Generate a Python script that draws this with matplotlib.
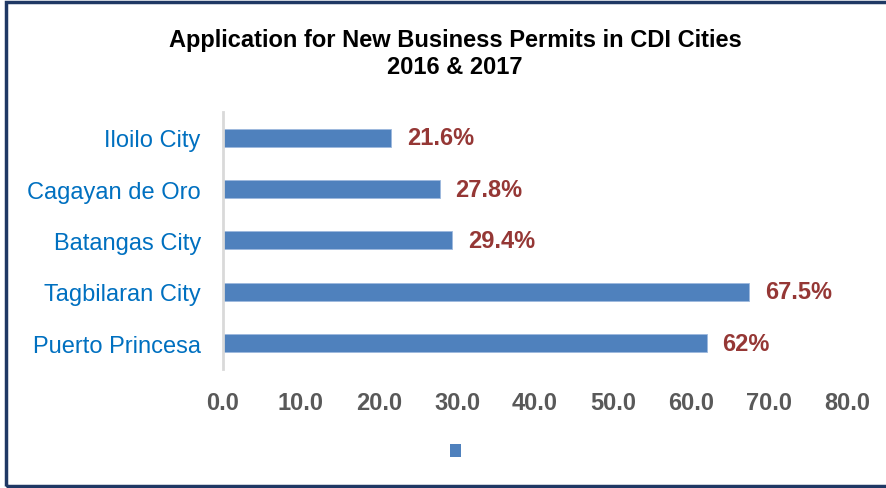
import matplotlib.pyplot as plt
from matplotlib.patches import Rectangle, Patch

plt.rcParams['font.family'] = ['Liberation Sans', 'DejaVu Sans']

# data
cities = ['Iloilo City', 'Cagayan de Oro', 'Batangas City', 'Tagbilaran City', 'Puerto Princesa']
values = [21.6, 27.8, 29.4, 67.5, 62.0]
labels = ['21.6%', '27.8%', '29.4%', '67.5%', '62%']
xticks = [0, 10, 20, 30, 40, 50, 60, 70, 80]

bar_color = '#4F81BD'

fig = plt.figure(figsize=(8.87, 4.89), dpi=100)
ax = fig.add_axes([0.2514, 0.2434, 0.7035, 0.5256])

ypos = list(range(len(cities)))
ax.barh(ypos, values, height=0.35, color=bar_color, edgecolor='#9DB9DE', linewidth=0.6)
ax.set_ylim(len(cities) - 0.5, -0.5)
ax.set_xlim(0, 80)

ax.set_yticks(ypos)
ax.set_yticklabels(cities, color='#0070C0', fontsize=17)
ax.set_xticks(xticks)
ax.set_xticklabels([f'{t:.1f}' for t in xticks], color='#595959', fontsize=17, fontweight='bold')
ax.tick_params(axis='y', length=0, pad=16)
ax.tick_params(axis='x', length=0, pad=16)

for s in ['top', 'right', 'bottom']:
    ax.spines[s].set_visible(False)
ax.spines['left'].set_color('#D9D9D9')
ax.spines['left'].set_linewidth(2)

for y, v, lab in zip(ypos, values, labels):
    ax.text(v + 2.0, y, lab, va='center', ha='left', color='#953735',
            fontsize=17, fontweight='bold')

fig.text(0.513, 0.89, 'Application for New Business Permits in CDI Cities\n2016 & 2017',
         ha='center', va='center', fontsize=17, fontweight='bold', linespacing=1.2)

# empty-label legend marker
fig.legend(handles=[Patch(facecolor=bar_color)], labels=[''], loc='center',
           bbox_to_anchor=(0.514, 0.0757), frameon=False, handlelength=0.8,
           handleheight=1.05, handletextpad=0)

# frame
fig.patches.append(Rectangle((0.0068, 0.004), 1.2, 0.99, transform=fig.transFigure,
                             fill=False, edgecolor='#1F3864', linewidth=2.5))

fig.savefig('out.png', dpi=100)
